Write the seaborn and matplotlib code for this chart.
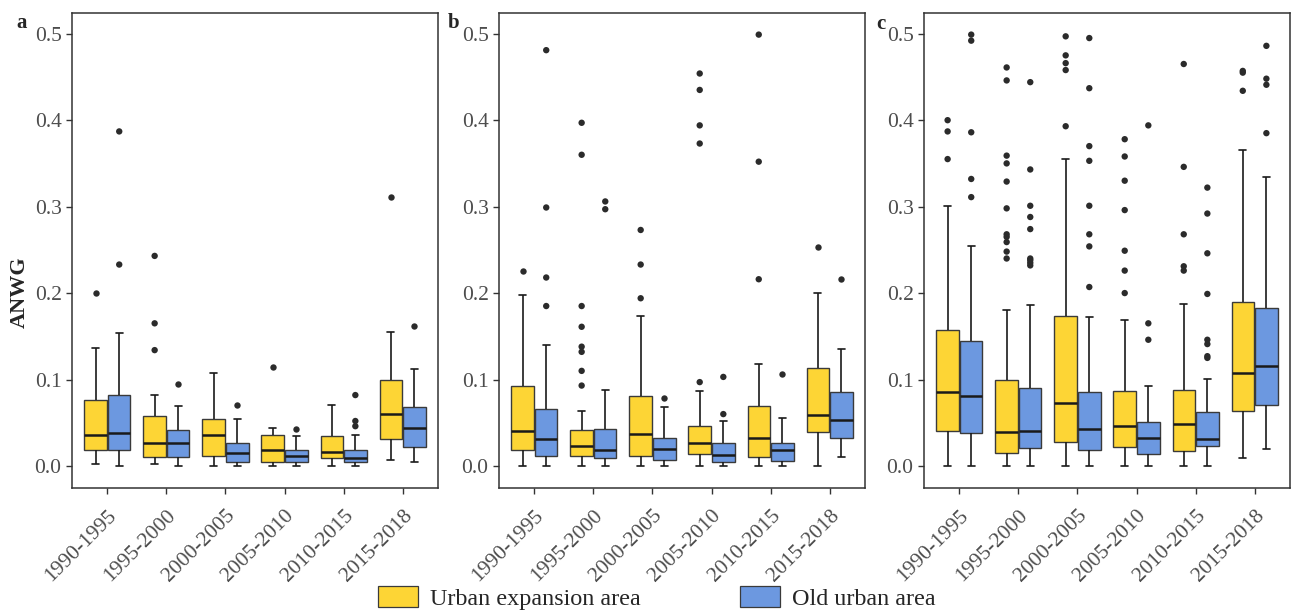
import numpy as np
import pandas as pd
import seaborn as sns
import matplotlib.pyplot as plt
from matplotlib.patches import Patch

# =========================
# DATA
# =========================
periods = ["1990-1995", "1995-2000", "2000-2005", "2005-2010", "2010-2015", "2015-2018"]
groups = ["Urban expansion area", "Old urban area"]
colors = ["#FDD535", "#6C98E0"]

# box summaries per period: [lower whisker, Q1, median, Q3, upper whisker]
a_urban = [[0.002, 0.019, 0.036, 0.076, 0.136],
           [0.002, 0.010, 0.026, 0.058, 0.082],
           [0.000, 0.011, 0.036, 0.054, 0.107],
           [0.000, 0.005, 0.019, 0.036, 0.044],
           [0.000, 0.009, 0.016, 0.035, 0.070],
           [0.007, 0.031, 0.060, 0.100, 0.155]]
a_old = [[0.000, 0.018, 0.038, 0.082, 0.154],
         [0.000, 0.010, 0.026, 0.042, 0.069],
         [0.000, 0.005, 0.015, 0.026, 0.054],
         [0.000, 0.004, 0.012, 0.019, 0.035],
         [0.000, 0.005, 0.009, 0.019, 0.036],
         [0.005, 0.022, 0.044, 0.068, 0.112]]
a_urban_out = [[0.200], [0.134, 0.165, 0.243], [], [0.114], [], [0.311]]
a_old_out = [[0.233, 0.387], [0.095], [0.070], [0.043], [0.046, 0.052, 0.082], [0.162]]

b_urban = [[0.000, 0.019, 0.040, 0.093, 0.198],
           [0.000, 0.011, 0.023, 0.042, 0.064],
           [0.000, 0.011, 0.037, 0.081, 0.174],
           [0.000, 0.014, 0.026, 0.046, 0.087],
           [0.000, 0.010, 0.032, 0.069, 0.118],
           [0.000, 0.039, 0.059, 0.113, 0.200]]
b_old = [[0.000, 0.012, 0.031, 0.066, 0.140],
         [0.000, 0.009, 0.019, 0.043, 0.088],
         [0.000, 0.007, 0.020, 0.032, 0.068],
         [0.000, 0.005, 0.013, 0.026, 0.052],
         [0.000, 0.006, 0.018, 0.027, 0.055],
         [0.010, 0.032, 0.053, 0.086, 0.135]]
b_urban_out = [[0.226],
               [0.093, 0.110, 0.132, 0.138, 0.161, 0.185, 0.360, 0.397],
               [0.194, 0.233, 0.273],
               [0.097, 0.373, 0.394, 0.435, 0.454],
               [0.216, 0.352, 0.499],
               [0.253]]
b_old_out = [[0.185, 0.218, 0.299, 0.481], [0.297, 0.306], [0.079],
             [0.060, 0.103], [0.106], [0.216]]

c_urban = [[0.000, 0.041, 0.086, 0.157, 0.301],
           [0.000, 0.015, 0.039, 0.100, 0.180],
           [0.000, 0.028, 0.073, 0.173, 0.355],
           [0.000, 0.022, 0.046, 0.087, 0.169],
           [0.000, 0.017, 0.048, 0.088, 0.187],
           [0.009, 0.063, 0.107, 0.190, 0.365]]
c_old = [[0.000, 0.038, 0.081, 0.144, 0.255],
         [0.000, 0.021, 0.041, 0.090, 0.186],
         [0.000, 0.018, 0.043, 0.086, 0.172],
         [0.000, 0.014, 0.032, 0.051, 0.093],
         [0.000, 0.023, 0.031, 0.062, 0.101],
         [0.020, 0.071, 0.116, 0.183, 0.334]]
c_urban_out = [[0.355, 0.387, 0.400],
               [0.240, 0.248, 0.259, 0.265, 0.268, 0.298, 0.329, 0.350, 0.359, 0.446, 0.461],
               [0.393, 0.458, 0.466, 0.475, 0.497],
               [0.200, 0.226, 0.249, 0.296, 0.330, 0.358, 0.378],
               [0.226, 0.231, 0.268, 0.346, 0.465],
               [0.434, 0.455, 0.457]]
c_old_out = [[0.311, 0.332, 0.386, 0.492, 0.499],
             [0.232, 0.235, 0.238, 0.240, 0.274, 0.288, 0.301, 0.343, 0.444],
             [0.207, 0.254, 0.268, 0.301, 0.353, 0.370, 0.437, 0.495],
             [0.146, 0.165, 0.394],
             [0.125, 0.127, 0.141, 0.146, 0.199, 0.246, 0.292, 0.322],
             [0.385, 0.441, 0.448, 0.486]]

panels = [("a", a_urban, a_old, a_urban_out, a_old_out),
          ("b", b_urban, b_old, b_urban_out, b_old_out),
          ("c", c_urban, c_old, c_urban_out, c_old_out)]


def long_table(urban, old):
    rows = []
    for grp, vals in zip(groups, [urban, old]):
        for per, v in zip(periods, vals):
            for x in v:
                rows.append((per, grp, x))
    return pd.DataFrame(rows, columns=["period", "group", "ANWG"])


# =========================
# STYLE
# =========================
sns.set_style("ticks")
plt.rcParams['font.family'] = ['Liberation Serif', 'DejaVu Serif']
grey = "#4D4D4D"

fig = plt.figure(figsize=(12.97, 6.10), dpi=100)
lefts = [72, 499, 924]
label_pos = [(22, 23), (454, 23), (881, 24)]

for k, (lab, urban, old, urban_out, old_out) in enumerate(panels):
    ax = fig.add_axes([lefts[k] / 1297, 1 - 488 / 610, 366 / 1297, 475 / 610])
    box_df = long_table(urban, old)
    out_df = long_table(urban_out, old_out)

    sns.boxplot(data=box_df, x="period", y="ANWG", hue="group",
                order=periods, hue_order=groups, palette=colors, saturation=1,
                width=0.8, gap=0.05, whis=(0, 100), showfliers=False,
                linecolor="#3a3a3a", linewidth=1.0, capwidths=0.12,
                medianprops={"color": "#1a1a1a", "linewidth": 1.8},
                whiskerprops={"color": "#1a1a1a", "linewidth": 1.2},
                capprops={"color": "#1a1a1a", "linewidth": 1.2},
                legend=False, ax=ax)
    sns.stripplot(data=out_df, x="period", y="ANWG", hue="group",
                  order=periods, hue_order=groups, palette=["#2b2b2b", "#2b2b2b"],
                  dodge=True, jitter=False, size=4.6, legend=False, zorder=3, ax=ax)

    ax.set_xlim(-0.6, 5.6)
    ax.set_ylim(-0.0255, 0.524)
    ax.set_yticks([0.0, 0.1, 0.2, 0.3, 0.4, 0.5])
    ax.set_yticklabels(["0.0", "0.1", "0.2", "0.3", "0.4", "0.5"])
    ax.set_xlabel("")
    ax.set_ylabel("")
    ax.tick_params(axis="both", colors="#333333", labelcolor=grey,
                   labelsize=15.5, length=4, width=1)
    ax.tick_params(axis="x", labelsize=15.5, pad=9)
    plt.setp(ax.get_xticklabels(), rotation=45, ha="right", rotation_mode="anchor")
    for sp in ax.spines.values():
        sp.set_visible(True)
        sp.set_color("#333333")
        sp.set_linewidth(1.1)

    fig.text(label_pos[k][0] / 1297, 1 - label_pos[k][1] / 610, lab,
             fontsize=15, fontweight="bold", ha="center", va="center")

fig.text(20 / 1297, 1 - 292 / 610, "ANWG", rotation=90, fontsize=16,
         fontweight="bold", ha="center", va="center")

handles = [Patch(facecolor=c, edgecolor="#3a3a3a", linewidth=0.9) for c in colors]
fig.legend(handles, groups, loc="center", bbox_to_anchor=(657 / 1297, 1 - 598 / 610),
           ncol=2, frameon=False, fontsize=17.4, handlelength=1.65, handleheight=0.95,
           handletextpad=0.5, columnspacing=4.1, borderpad=0.2)

plt.savefig("out.png", dpi=100)
